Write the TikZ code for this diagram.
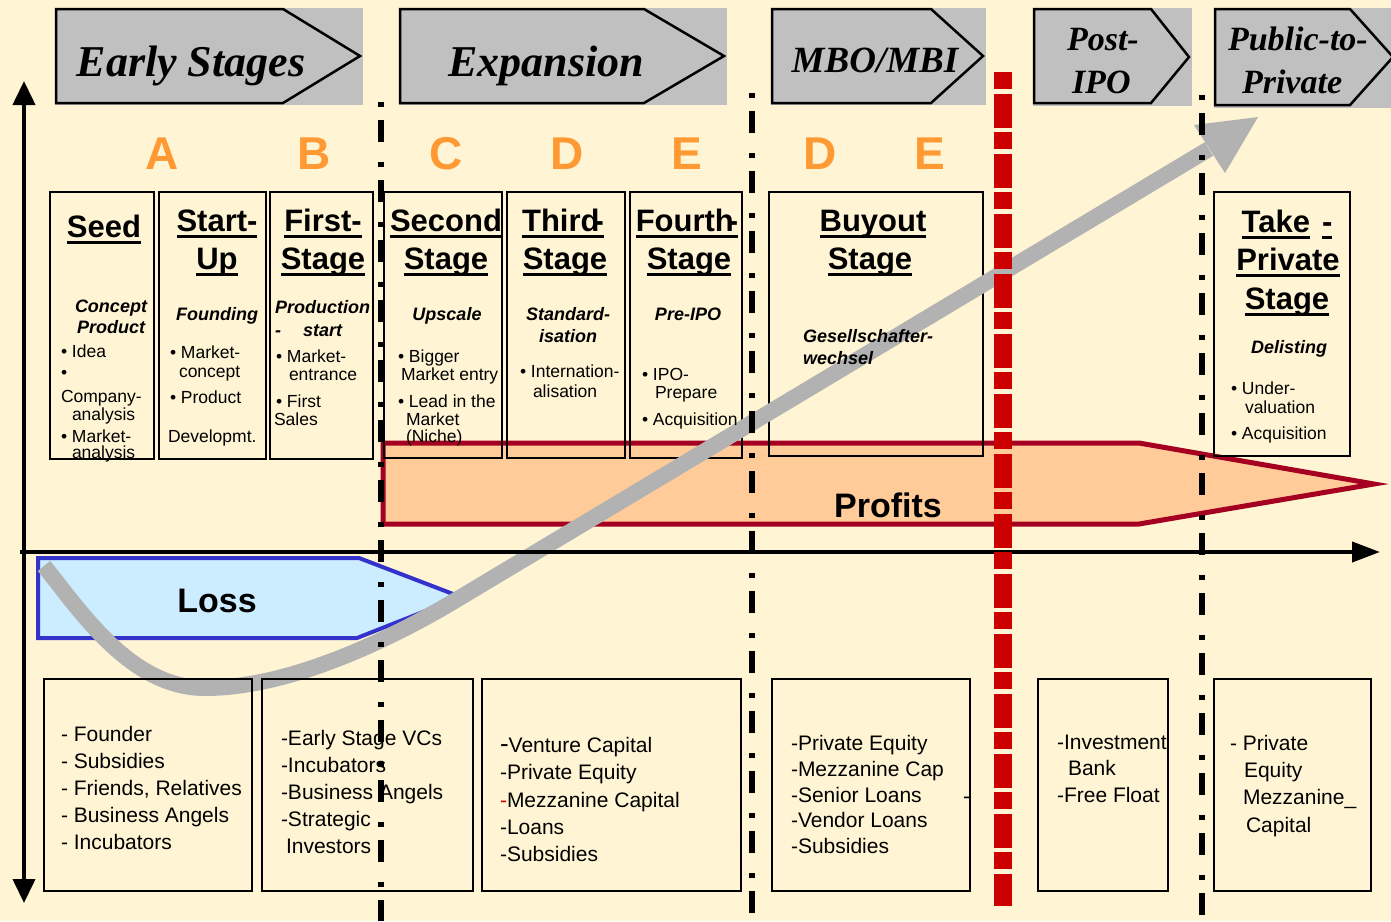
\documentclass[tikz,border=0pt]{standalone}
\usepackage{fontspec}
\setmainfont{Liberation Sans}
\newfontfamily\hdrfont{Liberation Serif}
\usetikzlibrary{arrows.meta}

\definecolor{bgcream}{RGB}{255,245,212}
\definecolor{hdrgray}{RGB}{192,192,192}
\definecolor{lettr}{RGB}{255,153,51}
\definecolor{peach}{RGB}{255,204,153}
\definecolor{profitred}{RGB}{165,0,33}
\definecolor{lossblue}{RGB}{204,236,255}
\definecolor{lossedge}{RGB}{51,51,204}
\definecolor{cutred}{RGB}{204,0,0}
\definecolor{curvegray}{RGB}{178,178,178}

% thick underline used for the stage titles
\newcommand\uln[1]{\leavevmode\setbox0\hbox{#1}\rlap{\rule[-7pt]{\wd0}{3.2pt}}\box0}

\tikzset{
  every node/.style={inner sep=0pt, outer sep=0pt},
  hdr/.style={font=\hdrfont\bfseries\itshape\fontsize{44}{44}\selectfont, anchor=base},
  hdrm/.style={font=\hdrfont\bfseries\itshape\fontsize{37}{37}\selectfont, anchor=base},
  hdrs/.style={font=\hdrfont\bfseries\itshape\fontsize{34}{34}\selectfont, anchor=base west},
  letter/.style={font=\bfseries\fontsize{46}{46}\selectfont, text=lettr, anchor=base},
  ttl/.style={font=\bfseries\fontsize{31}{31}\selectfont, anchor=base},
  sub/.style={font=\bfseries\itshape\fontsize{18}{18}\selectfont, anchor=base},
  subw/.style={sub, anchor=base west},
  itm/.style={font=\fontsize{17.5}{17.5}\selectfont, anchor=base west},
  fund/.style={font=\fontsize{21}{21}\selectfont, anchor=base west},
  bigword/.style={font=\bfseries\fontsize{34}{34}\selectfont, anchor=base},
  boxframe/.style={draw=black, line width=2.7pt},
  arrowbox/.style={draw=black, line width=2.5pt, line join=miter},
  dashdot/.style={draw=black, line width=6pt, dash pattern=on 5pt off 13pt on 22pt off 20pt},
}

\begin{document}
\begin{tikzpicture}[x=1pt,y=-1pt]
\useasboundingbox (0,0) rectangle (1391,921);
\fill[bgcream] (0,0) rectangle (1391,921);

% ---- phase headers ----
\fill[hdrgray] (55,8) rectangle (363,105);
\draw[arrowbox] (56,9) -- (283,9) -- (360,56) -- (283,103) -- (56,103) -- cycle;
\node[hdr] (hEarly) at (191,76) {Early Stages};

\fill[hdrgray] (399,8) rectangle (727,105);
\draw[arrowbox] (400,9) -- (644,9) -- (724,56) -- (644,103) -- (400,103) -- cycle;
\node[hdr] (hExp) at (546,76) {Expansion};

\fill[hdrgray] (771,8) rectangle (986,105);
\draw[arrowbox] (772,9) -- (931,9) -- (983,56) -- (931,103) -- (772,103) -- cycle;
\node[hdrm] (hMbo) at (875,72) {MBO/MBI};

\fill[hdrgray] (1033,8) rectangle (1192,106);
\draw[arrowbox] (1034,9) -- (1151,9) -- (1189,57) -- (1151,103) -- (1034,103) -- cycle;
\node[hdrs] (hPost1) at (1067,50) {Post-};
\node[hdrs] (hPost2) at (1072,93) {IPO};

\fill[hdrgray] (1214,8) rectangle (1391,108);
\draw[arrowbox] (1215,9) -- (1350,9) -- (1393,57) -- (1350,105) -- (1215,105) -- cycle;
\node[hdrs] (hPub1) at (1228,50) {Public-to-};
\node[hdrs] (hPub2) at (1242,93) {Private};

% ---- round letters ----
\node[letter] (lA) at (162,169) {A};
\node[letter] (lB) at (314,169) {B};
\node[letter] (lC) at (446,169) {C};
\node[letter] (lD) at (567,169) {D};
\node[letter] (lE) at (687,169) {E};
\node[letter] (lD2) at (820,169) {D};
\node[letter] (lE2) at (930,169) {E};

% ---- profit and loss bands ----
\draw[profitred, line width=5pt, fill=peach, line join=miter]
  (383,443) -- (1139,443) -- (1374,484) -- (1139,524) -- (383,524) -- cycle;
\draw[lossedge, line width=4pt, fill=lossblue, line join=miter]
  (38,558) -- (359,558) -- (461,597) -- (357,638) -- (38,638) -- cycle;

% ---- stage frames ----
\draw[boxframe] (50,192) rectangle (154,459);
\draw[boxframe] (159,192) rectangle (266,459);
\draw[boxframe] (270,192) rectangle (373,459);
\draw[boxframe] (384,192) rectangle (502,458);
\draw[boxframe] (507,192) rectangle (625,458);
\draw[boxframe] (630,192) rectangle (742,458);
\draw[boxframe] (769,192) rectangle (983,456);
\draw[boxframe] (1214,192) rectangle (1350,456);

% ---- value curve ----
\draw[curvegray, line width=16pt]
  (44,566) .. controls (80,610) and (130,688) .. (205,688)
  .. controls (280,688) and (370,650) .. (446,606) -- (1209,149);
\fill[curvegray] (1258,117) -- (1194,125) -- (1225,173) -- cycle;

\node[bigword] (tProfits) at (888,517) {Profits};
\node[bigword] (tLoss) at (217,612) {Loss};

% ---- stage texts ----
\node[ttl] (tSeed) at (104,237) {\uln{Seed}};
\node[sub] (sSeed1) at (111,312) {Concept};
\node[sub] (sSeed2) at (111,333) {Product};
\node[itm] (iSeed1) at (61,357) {• Idea};
\node[itm] (iSeed2) at (61,378) {•};
\node[itm] (iSeed3) at (61,402) {Company-};
\node[itm] (iSeed4) at (72,420) {analysis};
\node[itm] (iSeed5) at (61,442) {• Market-};
\node[itm] (iSeed6) at (72,458) {analysis};

\node[ttl] (tStart1) at (217,231) {\uln{Start-}};
\node[ttl] (tStart2) at (217,269) {\uln{Up}};
\node[sub] (sStart) at (217,320) {Founding};
\node[itm] (iStart1) at (170,358) {• Market-};
\node[itm] (iStart2) at (179,377) {concept};
\node[itm] (iStart3) at (170,403) {• Product};
\node[itm] (iStart4) at (168,442) {Developmt.};

\node[ttl] (tFirst1) at (323,231) {\uln{First-}};
\node[ttl] (tFirst2) at (323,269) {\uln{Stage}};
\node[subw] (sFirst1) at (275,313) {Production};
\node[subw] (sFirst2) at (275,336) {-};
\node[subw] (sFirst3) at (303,336) {start};
\node[itm] (iFirst1) at (276,362) {• Market-};
\node[itm] (iFirst2) at (289,380) {entrance};
\node[itm] (iFirst3) at (276,407) {• First};
\node[itm] (iFirst4) at (274,425) {Sales};

\node[ttl] (tSecond1) at (446,231) {\uln{Second}};
\node[ttl] (tSecond2) at (446,269) {\uln{Stage}};
\node[sub] (sSecond) at (447,320) {Upscale};
\node[itm] (iSecond1) at (398,362) {• Bigger};
\node[itm] (iSecond2) at (401,380) {Market entry};
\node[itm] (iSecond3) at (398,407) {• Lead in the};
\node[itm] (iSecond4) at (406,425) {Market};
\node[itm] (iSecond5) at (406,442) {(Niche)};

\node[ttl] (tThird1) at (563,231) {\uln{Third\kern-6pt-}};
\node[ttl] (tThird2) at (565,269) {\uln{Stage}};
\node[sub] (sThird1) at (568,320) {Standard-};
\node[sub] (sThird2) at (568,342) {isation};
\node[itm] (iThird1) at (520,377) {• Internation-};
\node[itm] (iThird2) at (533,397) {alisation};

\node[ttl] (tFourth1) at (687,231) {\uln{Fourth\kern-6pt-}};
\node[ttl] (tFourth2) at (689,269) {\uln{Stage}};
\node[sub] (sFourth) at (688,320) {Pre-IPO};
\node[itm] (iFourth1) at (642,380) {• IPO-};
\node[itm] (iFourth2) at (655,398) {Prepare};
\node[itm] (iFourth3) at (642,425) {• Acquisition};

\node[ttl] (tBuy1) at (873,231) {\uln{Buyout}};
\node[ttl] (tBuy2) at (870,269) {\uln{Stage}};
\node[subw] (sBuy1) at (803,342) {Gesellschafter-};
\node[subw] (sBuy2) at (803,364) {wechsel};

\node[ttl] (tTake1) at (1287,232) {\uln{Take}\hspace{12pt}\uln{-}};
\node[ttl] (tTake2) at (1288,270) {\uln{Private}};
\node[ttl] (tTake3) at (1287,309) {\uln{Stage}};
\node[sub] (sTake) at (1289,353) {Delisting};
\node[itm] (iTake1) at (1231,394) {• Under-};
\node[itm] (iTake2) at (1245,413) {valuation};
\node[itm] (iTake3) at (1231,439) {• Acquisition};

% ---- financing sources ----
\draw[boxframe] (44,679) rectangle (252,891);
\draw[boxframe] (262,679) rectangle (473,891);
\draw[boxframe] (482,679) rectangle (741,891);
\draw[boxframe] (772,679) rectangle (970,891);
\draw[boxframe] (1038,679) rectangle (1168,891);
\draw[boxframe] (1214,679) rectangle (1371,891);

\node[fund] (f11) at (61,741) {- Founder};
\node[fund] (f12) at (61,768) {- Subsidies};
\node[fund] (f13) at (61,795) {- Friends, Relatives};
\node[fund] (f14) at (61,822) {- Business Angels};
\node[fund] (f15) at (61,849) {- Incubators};

\node[fund] (f21) at (281,745) {-Early Stage VCs};
\node[fund] (f22) at (281,772) {-Incubators};
\node[fund] (f23) at (281,799) {-Business Angels};
\node[fund] (f24) at (281,826) {-Strategic};
\node[fund] (f25) at (286,853) {Investors};

\node[fund] (f31) at (500,752) {{\fontsize{26}{26}\selectfont -}Venture Capital};
\node[fund] (f32) at (500,779) {-Private Equity};
\node[fund] (f33) at (500,807) {\textcolor{cutred}{-}Mezzanine Capital};
\node[fund] (f34) at (500,834) {-Loans};
\node[fund] (f35) at (500,861) {-Subsidies};

\node[fund] (f41) at (791,750) {-Private Equity};
\node[fund] (f42) at (791,776) {-Mezzanine Cap};
\node[fund] (f43) at (791,802) {-Senior Loans};
\node[fund] (f44) at (791,827) {-Vendor Loans};
\node[fund] (f45) at (791,853) {-Subsidies};
\node[fund] (f46) at (963,803) {-};

\node[fund] (f51) at (1057,749) {-Investment};
\node[fund] (f52) at (1068,775) {Bank};
\node[fund] (f53) at (1057,802) {-Free Float};

\node[fund] (f61) at (1230,750) {- Private};
\node[fund] (f62) at (1244,777) {Equity};
\node[fund] (f63) at (1243,804) {Mezzanine\_};
\node[fund] (f64) at (1246,832) {Capital};

% ---- axes ----
\draw[line width=4pt, {Triangle[length=24pt,width=22pt]}-{Triangle[length=24pt,width=22pt]}]
  (24,903) -- (24,81);
\draw[line width=4pt, -{Triangle[length=28pt,width=20pt]}] (20,552) -- (1380,552);

% ---- phase separators ----
\draw[dashdot] (381,102) -- (381,921);
\draw[dashdot] (752,93) -- (752,921);
\draw[dashdot] (1202,95) -- (1202,921);
\draw[cutred, line width=18pt, dash pattern=on 17pt off 4.5pt on 34pt off 4.5pt]
  (1003,72) -- (1003,906);
\end{tikzpicture}
\end{document}
